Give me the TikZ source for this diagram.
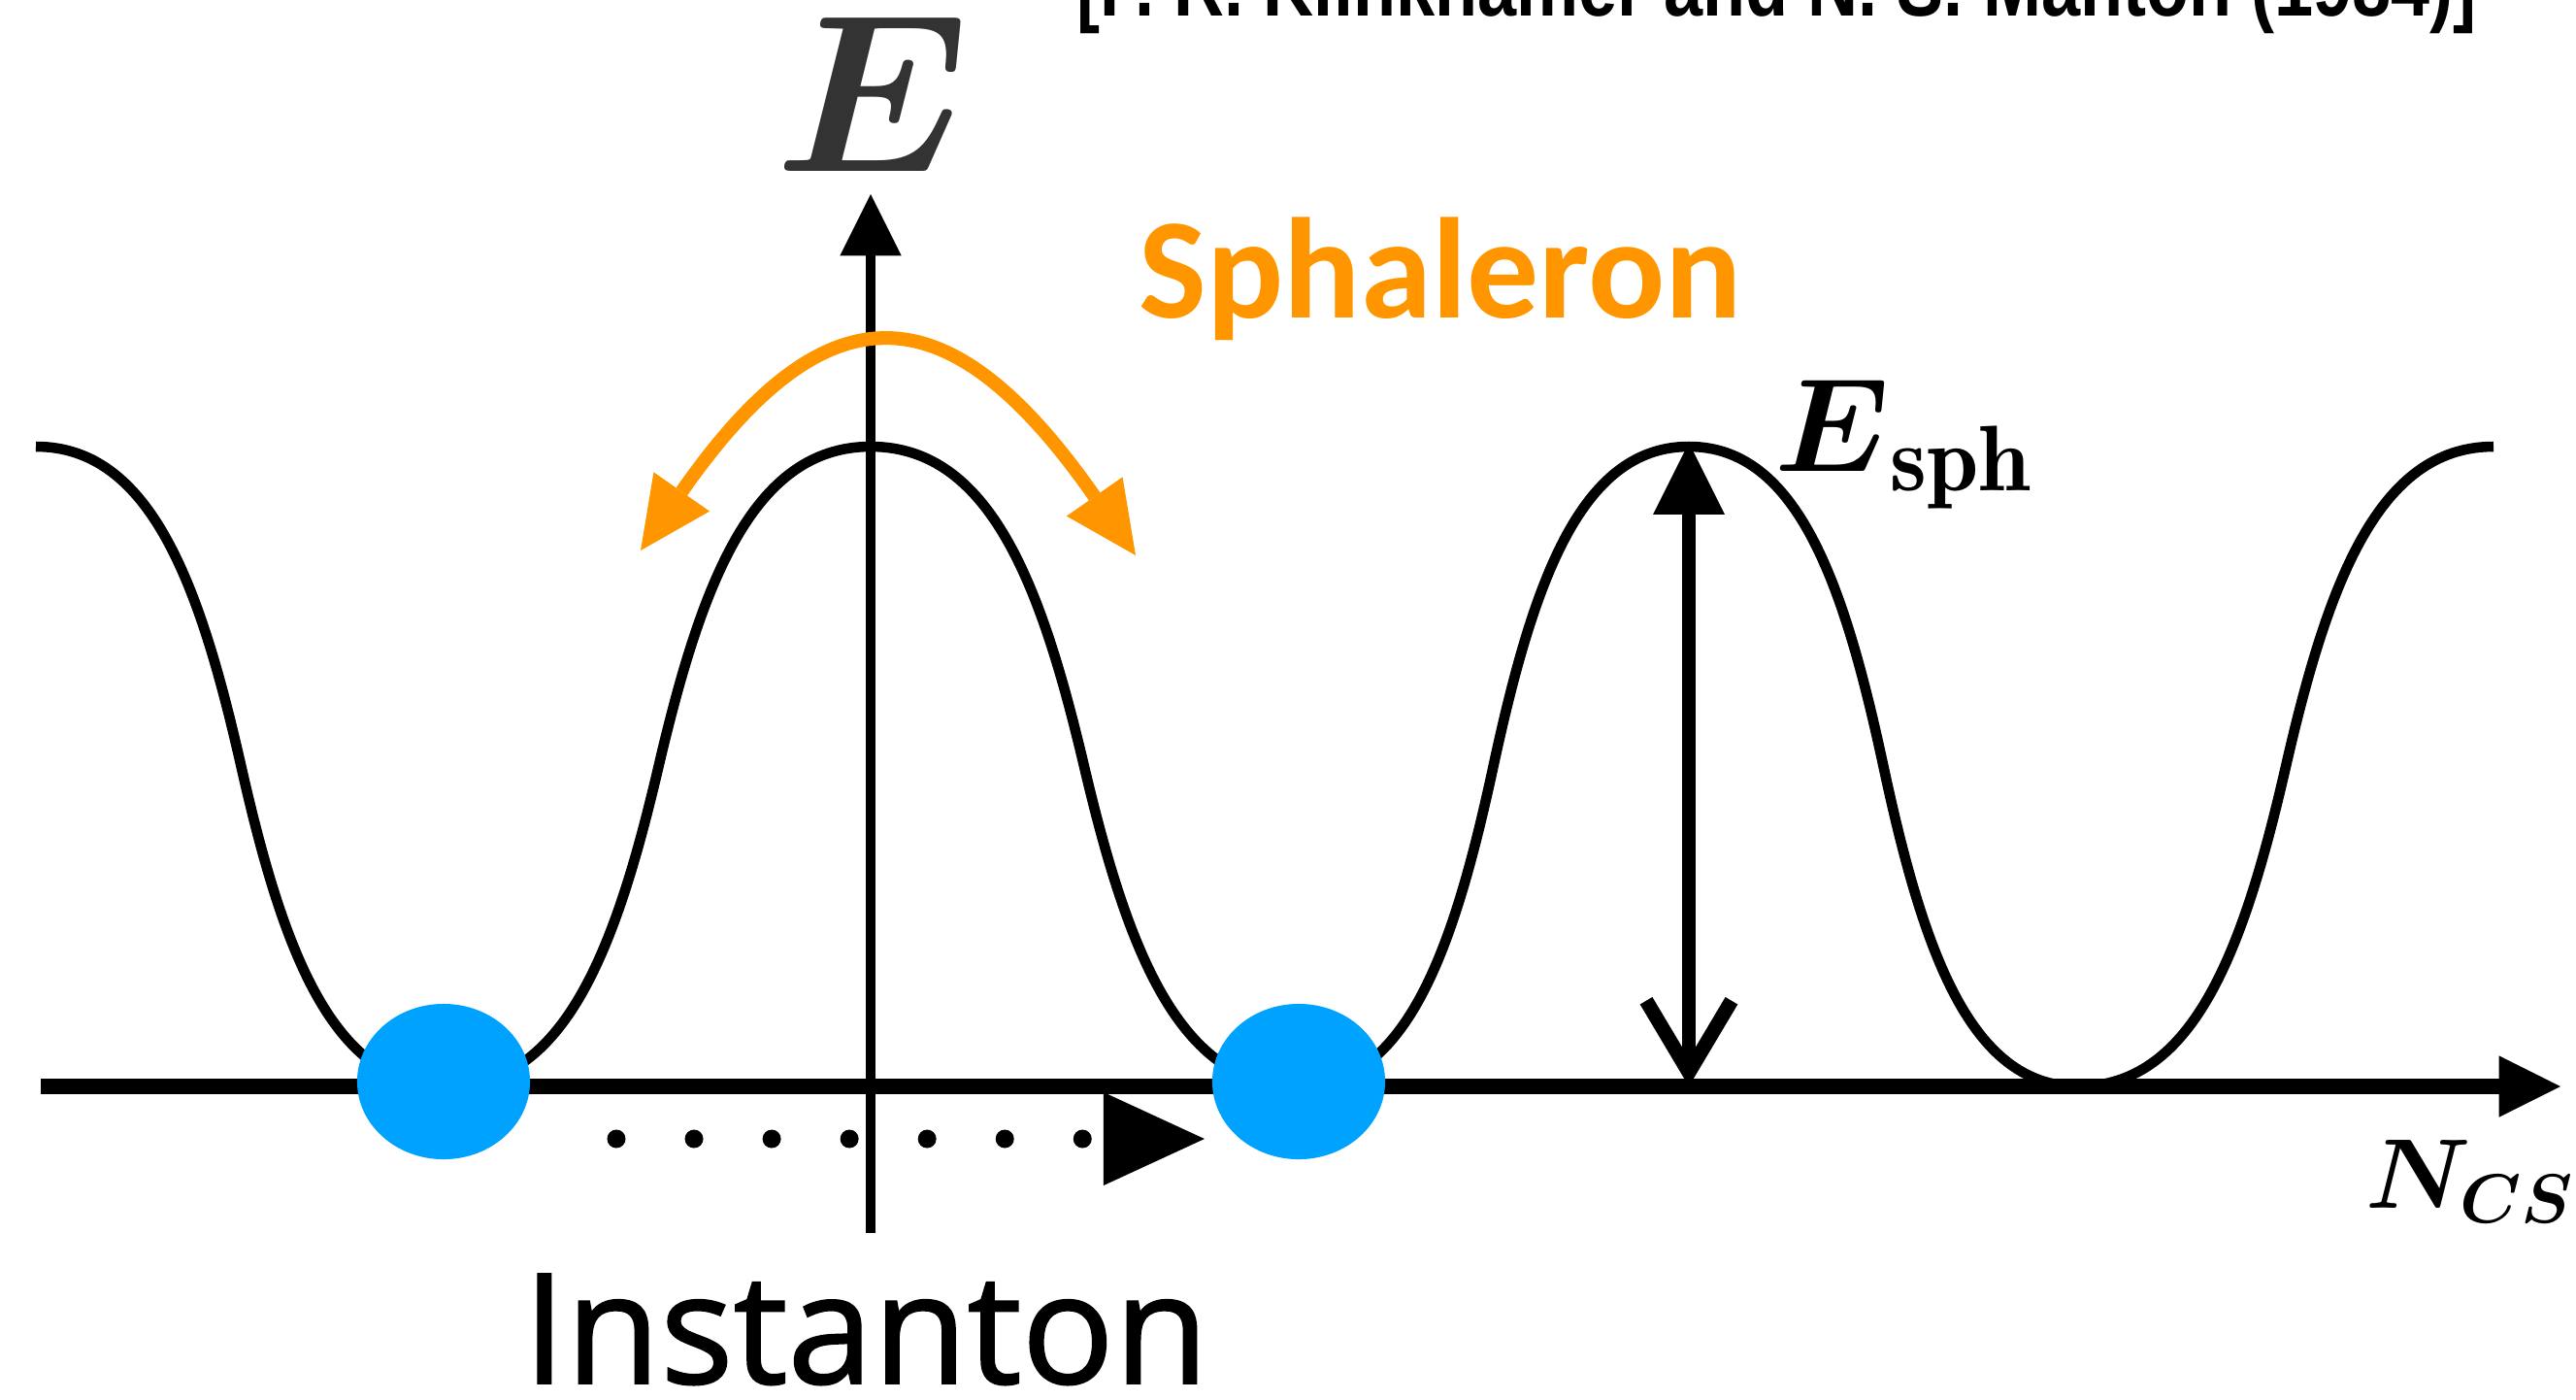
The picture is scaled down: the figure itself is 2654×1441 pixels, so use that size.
\RequirePackage{fix-cm}
\documentclass[tikz,border=0pt]{standalone}
\usepackage{amsmath}
\usepackage{fontspec}
\usepackage{xcolor}
\usepackage{tikz}
\usetikzlibrary{arrows.meta,positioning,shapes.geometric}
\newfontfamily\instfont{Open Sans}[FakeBold=1.2]
\newfontfamily\sphfont{Carlito}
\newfontfamily\citefont{Liberation Sans}
\definecolor{sphorange}{RGB}{255,150,0}
\definecolor{ballblue}{RGB}{0,162,255}
\definecolor{axisgray}{RGB}{51,51,51}

\begin{document}
\begin{tikzpicture}[
	x=0.01cm, y=-0.01cm,
	>=Stealth,
	potential/.style={black, line width=3pt},
	haxis/.style={black, line width=4.4pt, -{Triangle[length=18pt,width=18pt,line width=0pt]}},
	vaxis/.style={black, line width=2.8pt, -{Triangle[length=18pt,width=18pt,line width=0pt]}},
	barrier/.style={black, line width=4.2pt,
		{Straight Barb[length=21pt,width=25pt]}-{Triangle[length=21pt,width=21pt,line width=0pt]}},
	swing/.style={sphorange, line width=4pt,
		{Triangle[length=21pt,width=20pt,line width=0pt]}-{Triangle[length=21pt,width=20pt,line width=0pt]}},
	ball/.style={ellipse, fill=ballblue, inner sep=0pt,
		minimum width=1.78cm, minimum height=1.6cm},
	tunnel/.style={black, line width=5.4pt, line cap=round, dash pattern=on 0pt off 0.8cm,
		-{Triangle[length=1.04cm,width=0.96cm,line width=0pt]}},
	label/.style={inner sep=0pt}
	]
	\useasboundingbox (0,0) rectangle (2654,1441);
	%% ─── POTENTIAL AND AXES ─────────────────────────────────────────────
	\draw[potential] (37,460)
		.. controls (155.4,460) and (206.2,603) .. (248.5,789.5)
		.. controls (290.8,976) and (341.6,1119) .. (460,1119)
		.. controls (582.4,1119) and (634.8,976) .. (678.5,789.5)
		.. controls (722.2,603) and (774.6,460) .. (897,460)
		.. controls (1020.2,460) and (1073,603) .. (1117,789.5)
		.. controls (1161,976) and (1213.8,1119) .. (1337,1119)
		.. controls (1449.8,1119) and (1498.2,976) .. (1538.5,789.5)
		.. controls (1578.8,603) and (1627.2,460) .. (1740,460)
		.. controls (1852.3,460) and (1900.4,603) .. (1940.5,789.5)
		.. controls (1980.6,976) and (2028.7,1119) .. (2141,1119)
		.. controls (2260.8,1119) and (2312.2,976) .. (2355,789.5)
		.. controls (2397.8,603) and (2449.2,460) .. (2569,460);
	
	\coordinate (xstart) at (42,1119);
	\coordinate (xend) at (2638,1119);
	\coordinate (ystart) at (897,1270);
	\coordinate (yend) at (897,200);
	\draw[haxis] (xstart) -- (xend);
	\draw[vaxis] (ystart) -- (yend);
	
	\coordinate (sphbot) at (1740,1119);
	\coordinate (sphtop) at (1740,456);
	\draw[barrier] (sphbot) -- (sphtop);
	
	%% ─── SPHALERON SWING ────────────────────────────────────────────────
	\coordinate (swingl) at (660,567);
	\coordinate (swingr) at (1170,572);
	\draw[swing] (swingl) .. controls (852,292) and (978,297) .. (swingr);
	
	%% ─── INSTANTON TUNNELLING ───────────────────────────────────────────
	\node[ball] (ball1) at (457,1114) {};
	\node[ball] (ball2) at (1338,1114) {};
	\coordinate (tunnelstart) at (635,1173);
	\coordinate (tunnelend) at (1241,1173);
	\draw[tunnel] (tunnelstart) -- (tunnelend);
	
	%% ─── LABELS ─────────────────────────────────────────────────────────
	\node[label, text=axisgray] (elabel) at (899,97) {\fontsize{66}{70}\selectfont $\boldsymbol{E}$};
	\node[label, anchor=base west] (esph) at (1828,485) {\fontsize{39}{41}\selectfont $\boldsymbol{E}_{\mathbf{sph}}$};
	\node[label, anchor=base west] (ncs) at (2437,1244) {\fontsize{29}{31}\selectfont $\boldsymbol{N_{CS}}$};
	\node[label, anchor=base west, text=sphorange] (sphlabel) at (1173,327)
	{\sphfont\bfseries\fontsize{42}{44}\selectfont Sphaleron};
	\node[label, anchor=base] (instlabel) at (892,1425)
	{\instfont\fontsize{45}{50}\selectfont Instanton};
	\node[label, anchor=base west] (cite) at (1109,16)
	{\citefont\bfseries\fontsize{25}{27}\selectfont\scalebox{0.82}[1]{[F. R. Klinkhamer and N. S. Manton (1984)]}};
\end{tikzpicture}
\end{document}
